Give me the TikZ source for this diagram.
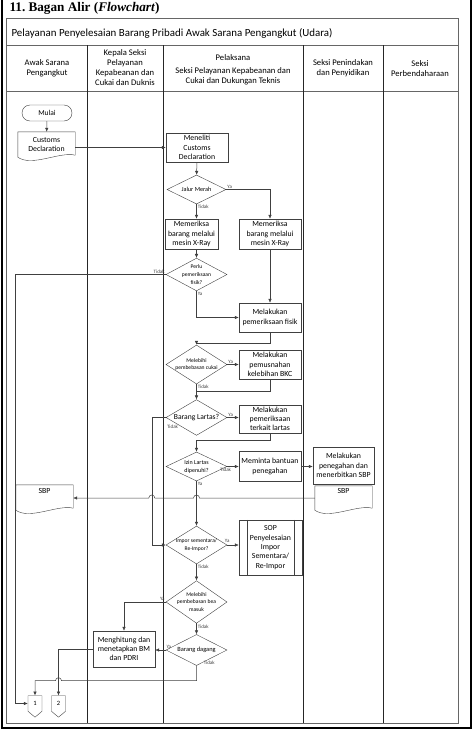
\documentclass[tikz,border=0pt]{standalone}
\usepackage{fontspec}
\setmainfont{Carlito}
\newfontfamily\titlefont{Liberation Serif}
\usetikzlibrary{arrows.meta, positioning, calc, shapes.geometric, shapes.symbols}
\tikzstyle{box} = [rectangle, draw=black!75, minimum width=62pt, minimum height=29pt, inner sep=1pt, align=center, font=\fontsize{7.8}{9.3}\selectfont]
\tikzstyle{decision} = [diamond, draw=black!75, minimum width=61pt, minimum height=29pt, inner sep=-4pt, align=center, font=\fontsize{5.6}{7.8}\selectfont]
\tikzstyle{doc} = [rectangle, minimum width=57pt, minimum height=25pt, inner sep=1pt, align=center, font=\fontsize{7.8}{9.3}\selectfont]
\tikzstyle{terminal} = [rectangle, rounded corners=8pt, draw=black!75, minimum width=50pt, minimum height=16pt, font=\fontsize{7.5}{9}\selectfont]
\tikzstyle{offpage} = [signal, signal to=south, signal from=nowhere, signal pointer angle=100, draw=black!75, minimum width=14pt, minimum height=17pt, inner sep=0pt, font=\fontsize{6.5}{7}\selectfont]
\tikzstyle{hdr} = [align=center, font=\fontsize{8.6}{10}\selectfont]
\tikzstyle{lbl} = [inner sep=1pt, font=\fontsize{5}{5.5}\selectfont]
\tikzstyle{arrow} = [-{Latex[length=4pt,width=3.5pt]}, black!75, line width=0.5pt]
\tikzstyle{link} = [black!75, line width=0.5pt]
\newcommand{\docoutline}[1]{%
  \draw[black!75] (#1.south west) -- (#1.north west) -- (#1.north east) -- ([yshift=2pt]#1.south east)
    .. controls ([xshift=-15pt,yshift=6pt]#1.south east) and ([xshift=14pt,yshift=-10pt]#1.south west) .. (#1.south west);}
\begin{document}
\begin{tikzpicture}[x=1pt, y=-1pt]
				\useasboundingbox (0,0) rectangle (475,731);
				
				% Frame and swimlanes
				\draw[line width=1.5pt] (2,0) -- (2,728) -- (471,728) -- (471,0);
				\node[anchor=west, font=\titlefont\fontsize{13.2}{14}\selectfont\bfseries] (judul) at (6,8) {11.\ Bagan Alir (\textit{Flowchart})};
				\draw[black!60, line width=0.6pt] (6,18) rectangle (458,723);
				\draw[black!60, line width=0.6pt] (6,45) -- (458,45);
				\draw[black!60, line width=0.6pt] (6,91) -- (458,91);
				\foreach \x in {87,163,303,383} \draw[black!85, line width=0.6pt] (\x,45) -- (\x,723);
				
				\node[anchor=west, font=\fontsize{10.9}{12}\selectfont] (proses) at (8,33) {Pelayanan Penyelesaian Barang Pribadi Awak Sarana Pengangkut (Udara)};
				\node[hdr] (hawak) at (47,68.5) {Awak Sarana\\Pengangkut};
				\node[hdr] (hkepala) at (125,68) {Kepala Seksi\\Pelayanan\\Kepabeanan dan\\Cukai dan Duknis};
				\node[hdr] (hpelaksana) at (233,69.5) {Pelaksana\\[3pt]Seksi Pelayanan Kepabeanan dan\\Cukai dan Dukungan Teknis};
				\node[hdr] (hpenindakan) at (343,68.5) {Seksi Penindakan\\dan Penyidikan};
				\node[hdr] (hbendahara) at (420,68.5) {Seksi\\Perbendaharaan};
				
				% Nodes
				\node[terminal] (mulai) at (47,113) {Mulai};
				\node[doc] (cdecl) at (46.5,144.5) {Customs\\Declaration};
				\node[box] (meneliti) at (197,147.5) {Meneliti\\Customs\\Declaration};
				\node[decision, minimum width=59pt, font=\fontsize{6.2}{7}\selectfont] (jalur) at (196.5,189.5) {Jalur Merah};
				\node[box, minimum width=53pt, minimum height=30pt] (xrayA) at (191.5,234) {Memeriksa\\barang melalui\\mesin X-Ray};
				\node[box, minimum height=30pt] (xrayB) at (270,234) {Memeriksa\\barang melalui\\mesin X-Ray};
				\node[decision] (perlu) at (196.5,274.5) {Perlu\\pemeriksaan\\fisik?};
				\node[box] (fisik) at (270,317.5) {Melakukan\\pemeriksaan fisik};
				\node[decision] (cukai) at (196.5,364.5) {Melebihi\\pembebasan cukai};
				\node[box] (musnah) at ([xshift=73.5pt]cukai.center) {Melakukan\\pemusnahan\\kelebihan BKC};
				\node[decision, font=\fontsize{7.6}{8}\selectfont] (lartas) at (196.5,417.5) {Barang Lartas?};
				\node[box, minimum height=28pt] (cklartas) at (270,419) {Melakukan\\pemeriksaan\\terkait lartas};
				\node[decision, font=\fontsize{6}{8}\selectfont] (izin) at (196.5,466.5) {Izin Lartas\\dipenuhi?};
				\node[box, minimum height=30pt] (bantuan) at ([xshift=73.5pt]izin.center) {Meminta bantuan\\penegahan};
				\node[box, minimum width=61pt, minimum height=37pt] (tegah) at (343.5,465.5) {Melakukan\\penegahan dan\\menerbitkan SBP};
				\node[doc, minimum height=24pt] (sbpB) at (343.5,498) {SBP\\[4pt]};
				\node[doc, minimum height=25pt] (sbpA) at (44.5,497.5) {SBP\\[4pt]};
				\node[decision, minimum height=34pt] (impor) at (196.5,545) {Impor sementara/\\Re-Impor?};
				\node[box, minimum width=63pt, minimum height=55pt] (sop) at (270.5,547.5) {SOP\\Penyelesaian\\Impor\\Sementara/\\Re-Impor};
				\node[decision, minimum height=27pt] (bea) at (196.5,602) {Melebihi\\pembebasan bea\\masuk};
				\node[decision, minimum height=31pt, font=\fontsize{6.4}{7}\selectfont] (dagang) at (196.5,650) {Barang dagang};
				\node[box, minimum height=36pt] (hitung) at (124,649) {Menghitung dan\\menetapkan BM\\dan PDRI};
				\node[offpage] (conA) at (35,703.5) {1};
				\node[offpage] (conB) at (58.5,703.5) {2};
				
				% Document and predefined process outlines
				\docoutline{cdecl}
				\docoutline{sbpA}
				\docoutline{sbpB}
				\draw[black!75] ([xshift=8pt]sop.north west) -- ([xshift=8pt]sop.south west);
				\draw[black!75] ([xshift=-8pt]sop.north east) -- ([xshift=-8pt]sop.south east);
				
				% Edges
				\draw[arrow] (mulai) -- (cdecl);
				\draw[arrow] (cdecl.east |- meneliti.west) -- (meneliti.west);
				\draw[arrow] (meneliti) -- (jalur);
				\draw[arrow] (jalur.east) node[lbl, above right]{Ya} -| (xrayB);
				\draw[arrow] (jalur.south) node[lbl, below right]{Tidak} -- (jalur.south |- xrayA.north);
				\draw[arrow] (perlu.north |- xrayA.south) -- (perlu.north);
				\draw[arrow] (perlu.west) node[lbl, above left]{Tidak} -- ++(-151,0) coordinate (kiri) |- (conA.west);
				\draw[arrow] (perlu.south) node[lbl, below right]{Ya} |- (fisik.west);
				\draw[arrow] (xrayB) -- (fisik);
				\draw[arrow] (fisik.south) -- ++(0,11) -| (cukai.north);
				\draw[arrow] (cukai.east) node[lbl, above right]{Ya} -- (musnah.west);
				\draw[arrow] (cukai.south) node[lbl, below right]{Tidak} -- (lartas.north);
				\draw[link] (musnah.south) -- ++(0,12) -| (cukai.south);
				\draw[arrow] (lartas.east) node[lbl, above right]{Ya} -- (lartas.east -| cklartas.west);
				\draw[arrow] (lartas.west) node[lbl, below right, yshift=-6pt]{Tidak} -- ++(-14,0) coordinate (lk) |- (impor.west);
				\draw[arrow] (cklartas.south) -- ++(0,7) -| (izin.north);
				\draw[arrow] (izin.east) node[lbl, below left, xshift=5pt]{Tidak} -- (bantuan.west);
				\draw[arrow] (bantuan.east) -- (bantuan.east -| tegah.west);
				\draw[arrow] (izin.south) node[lbl, below right]{Ya} -- (impor.north);
				\draw[arrow] (sbpB.west) -- ($(izin.south |- sbpB.west)+(3,0)$) arc[start angle=0, end angle=180, radius=3pt]
					-- ($(lk |- sbpB.west)+(3,0)$) arc[start angle=0, end angle=180, radius=3pt] -- (sbpA.east |- sbpB.west);
				\draw[arrow] (impor.east) node[lbl, above=1pt]{Ya} -- (impor.east -| sop.west);
				\draw[arrow] (impor.south) node[lbl, below right]{Tidak} -- (bea.north);
				\draw[arrow] (bea.west) node[lbl, above left]{Ya} -| (hitung.north);
				\draw[arrow] (bea.south) node[lbl, below right]{Tidak} -- (dagang.north);
				\draw[arrow] (dagang.west) node[lbl, above, xshift=3pt]{Ya} -- (dagang.west -| hitung.east);
				\draw[arrow] (dagang.south) node[lbl, above right, xshift=6pt]{Tidak} -- ++(0,15) coordinate (dt)
					-- ($(conB.north |- dt)+(3,0)$) arc[start angle=0, end angle=180, radius=3pt] -| (conA.north);
				\draw[arrow] (hitung.west) -| (conB.north);
				
			\end{tikzpicture}
\end{document}
